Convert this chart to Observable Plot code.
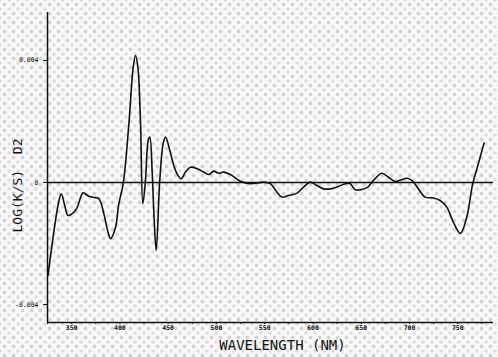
<!DOCTYPE html>
<html>
<head>
<meta charset="utf-8">
<script src="https://cdn.jsdelivr.net/npm/d3@7"></script>
<script src="https://cdn.jsdelivr.net/npm/@observablehq/plot@0.6"></script>
<style>
  html, body { margin: 0; padding: 0; }
  #chart {
    width: 498px; height: 357px; overflow: hidden;
    background-color: #f8f8f8;
    background-image:
      radial-gradient(circle, #d2d2d2 1.5px, transparent 2.3px),
      radial-gradient(circle, #dadada 1.3px, transparent 2.1px);
    background-size: 9px 9px, 9px 9px;
    background-position: 0 0, 4.5px 4.5px;
  }
  #chart svg text { white-space: pre; }
</style>
</head>
<body>
<div id="chart"></div>
<script>
// wavelength (nm) and second-derivative of log(K/S)
const wavelength = [325.5, 336.9, 339.3, 342.8, 346.2, 352.4, 355.9, 359.3, 361.7, 367.9,
  373.1, 378.2, 383.4, 387.2, 390.3, 395.5, 398.6, 403.5, 409.3, 413.8,
  416.2, 418.6, 421.4, 423.7, 426.5, 429.3, 431.0, 433.5, 435.3, 437.6,
  441.3, 444.8, 447.2, 451.7, 455.8, 459.6, 463.5, 467.9, 473.1, 480.0,
  486.8, 492.0, 497.2, 502.4, 507.5, 514.5, 524.8, 535.1, 542.1, 548.9,
  555.8, 562.8, 567.9, 574.8, 583.5, 590.3, 597.2, 604.1, 611.0, 617.9,
  626.5, 633.4, 638.6, 643.8, 655.9, 662.7, 671.4, 678.2, 685.1, 690.3,
  697.2, 702.4, 709.2, 716.2, 724.7, 731.7, 738.6, 745.4, 752.7, 759.3,
  765.5, 771.3, 777.2];
const logKS_D2 = [-0.00305, -0.00059, -0.00037, -0.00075, -0.00108, -0.00097, -0.00081, -0.00049, -0.00034, -0.00045,
  -0.00049, -0.00053, -0.00103, -0.00157, -0.00184, -0.00147, -0.00075, -0.00002, 0.00192, 0.00378,
  0.00416, 0.00378, 0.00192, -0.00070, 0.00007, 0.00138, 0.00149, 0.00029, -0.00108, -0.00223,
  0.00007, 0.00127, 0.00149, 0.00105, 0.00056, 0.00026, 0.00012, 0.00034, 0.00050, 0.00045,
  0.00034, 0.00026, 0.00037, 0.00030, 0.00034, 0.00026, 0.00004, -0.00004, -0.00002, 0.00001,
  -0.00004, -0.00032, -0.00048, -0.00043, -0.00035, -0.00015, 0.00001, -0.00010, -0.00021, -0.00021,
  -0.00013, -0.00004, -0.00004, -0.00024, -0.00017, 0.00007, 0.00030, 0.00017, 0.00003, 0.00007,
  0.00014, 0.00007, -0.00021, -0.00048, -0.00051, -0.00059, -0.00081, -0.00130, -0.00167, -0.00114,
  -0.00004, 0.00061, 0.00129];

const xTicks = [325, 350, 375, 400, 425, 450, 475, 500, 525, 550, 575, 600, 625, 650, 675, 700, 725, 750, 775];
const xTickLabels = ["", "350", "", "400", "", "450", "", "500", "", "550", "", "600", "", "650", "", "700", "", "750", ""];
const yTicks = [-0.004, 0, 0.004];
const yTickLabels = ["-0.004", "0", "0.004"];
const xTitle = "WAVELENGTH (NM)";
const yTitle = "LOG(K/S)  D2";

const data = wavelength.map((w, i) => ({w, v: logKS_D2[i]}));
const xDomain = [325, 787];
const yDomain = [-0.00459, 0.00557];

const chart = Plot.plot({
  width: 498,
  height: 357,
  marginLeft: 47,
  marginRight: 5,
  marginTop: 12,
  marginBottom: 35,
  style: {background: "transparent", fontFamily: "DejaVu Sans Mono", color: "#111"},
  x: {domain: xDomain},
  y: {domain: yDomain},
  marks: [
    Plot.axisX({
      ticks: xTicks,
      tickFormat: d => xTickLabels[xTicks.indexOf(d)],
      tickSize: 2, tickPadding: 1, label: null,
      fontSize: 6.5, fontWeight: "bold", stroke: "#111", fill: "#111"
    }),
    Plot.axisY({
      ticks: yTicks,
      tickFormat: d => yTickLabels[yTicks.indexOf(d)],
      tickSize: 4, tickPadding: 5, label: null,
      fontSize: 6.5, stroke: "#111", fill: "#111"
    }),
    Plot.ruleX([xDomain[0]], {stroke: "#111", strokeWidth: 1.5}),
    Plot.ruleY([yDomain[0]], {stroke: "#111", strokeWidth: 1.5}),
    Plot.ruleY([0], {stroke: "#111", strokeWidth: 1.5}),
    Plot.line(data, {x: "w", y: "v", stroke: "#111", strokeWidth: 1.6, curve: "catmull-rom"}),
    Plot.text([xTitle], {frameAnchor: "bottom", dx: 12, dy: 27, fontSize: 14, fill: "#111"}),
    Plot.text([yTitle], {frameAnchor: "left", textAnchor: "middle", rotate: -90, dx: -30, dy: 18, fontSize: 13, fill: "#111"})
  ]
});
document.getElementById("chart").appendChild(chart);
</script>
</body>
</html>
